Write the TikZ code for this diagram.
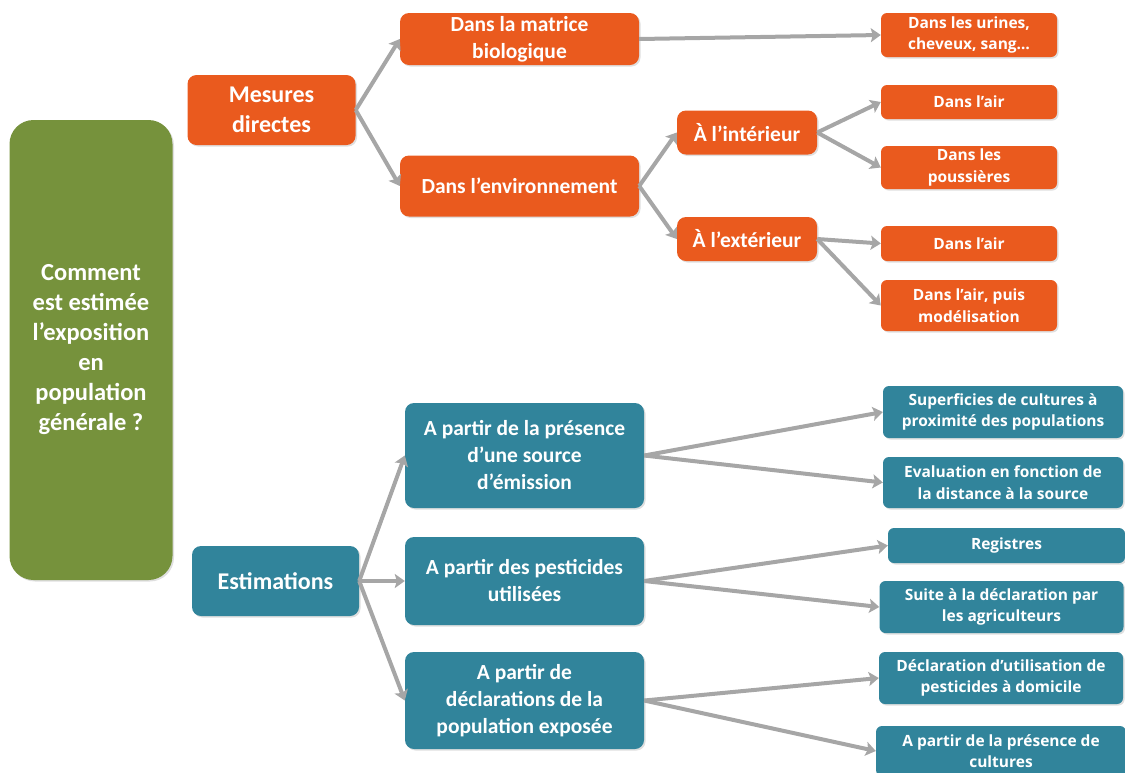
\documentclass[tikz,border=0pt]{standalone}
\usepackage{fontspec}
\setmainfont{Carlito}
\newfontfamily\petite{Open Sans}
\usetikzlibrary{arrows.meta,shadows}
\definecolor{vertq}{HTML}{76923C}
\definecolor{orangeq}{HTML}{EA5A1E}
\definecolor{bleuq}{HTML}{31849B}
\definecolor{grisq}{HTML}{A6A6A6}
\begin{document}
\begin{tikzpicture}[x=1pt,y=-1pt,
  boite/.style={text=white,align=center,inner sep=0pt,
    drop shadow={opacity=0.25,shadow xshift=1.5pt,shadow yshift=-1.5pt}},
  racine/.style={boite,fill=vertq,rounded corners=24pt,font=\bfseries\fontsize{24.5}{30}\selectfont},
  grand/.style={boite,rounded corners=9pt,font=\bfseries\fontsize{24}{30}\selectfont},
  moyen/.style={boite,rounded corners=9pt,font=\bfseries\fontsize{21.5}{27}\selectfont},
  petit/.style={boite,rounded corners=6pt,font=\petite\bfseries\fontsize{15.5}{21.5}\selectfont},
  fleche/.style={grisq,line width=4pt,-{Stealth[length=10pt,width=14pt,inset=2pt]}}]
\useasboundingbox (0,0) rectangle (1125,772);

% question
\node[racine,minimum width=163pt,minimum height=460pt] (racine) at (91,350)
  {Comment\\est estimée\\l’exposition\\en\\population\\générale ?};

% mesures directes
\node[grand,fill=orangeq,minimum width=168pt,minimum height=70pt] (mesures) at (271.5,110) {Mesures\\directes};
\node[moyen,fill=orangeq,minimum width=239pt,minimum height=52pt] (matrice) at (519.5,39) {Dans la matrice\\biologique};
\node[moyen,fill=orangeq,minimum width=239pt,minimum height=61pt] (environ) at (519.5,186) {Dans l’environnement};
\node[moyen,fill=orangeq,minimum width=140pt,minimum height=44pt] (interieur) at (747,132.5) {À l’intérieur};
\node[moyen,fill=orangeq,minimum width=140pt,minimum height=44pt] (exterieur) at (747,239) {À l’extérieur};
\node[petit,fill=orangeq,minimum width=176pt,minimum height=44pt] (urines) at (969,35) {Dans les urines,\\cheveux, sang…};
\node[petit,fill=orangeq,minimum width=176pt,minimum height=34pt] (airint) at (969,102) {Dans l’air};
\node[petit,fill=orangeq,minimum width=176pt,minimum height=43pt] (poussieres) at (969,167.5) {Dans les\\poussières};
\node[petit,fill=orangeq,minimum width=176pt,minimum height=35pt] (airext) at (969,243.5) {Dans l’air};
\node[petit,fill=orangeq,minimum width=176pt,minimum height=51pt] (modelis) at (969,305.5) {Dans l’air, puis\\modélisation};

% estimations
\node[grand,fill=bleuq,minimum width=167pt,minimum height=70pt] (estim) at (275.5,581) {Estimations};
\node[moyen,fill=bleuq,minimum width=239pt,minimum height=105pt] (source) at (524.5,455.5) {A partir de la présence\\d’une source\\d’émission};
\node[moyen,fill=bleuq,minimum width=239pt,minimum height=88pt] (pesticides) at (524.5,581) {A partir des pesticides\\utilisées};
\node[moyen,fill=bleuq,minimum width=239pt,minimum height=97pt] (declar) at (524.5,700.5) {A partir de\\déclarations de la\\population exposée};
\node[petit,fill=bleuq,minimum width=240pt,minimum height=52pt] (superf) at (1003,412) {Superficies de cultures à\\proximité des populations};
\node[petit,fill=bleuq,minimum width=240pt,minimum height=51pt] (evalu) at (1003,482.5) {Evaluation en fonction de\\la distance à la source};
\node[petit,fill=bleuq,minimum width=237pt,minimum height=35pt] (registres) at (1006.5,545.5) {Registres};
\node[petit,fill=bleuq,minimum width=244pt,minimum height=52pt] (suite) at (1001.5,607) {Suite à la déclaration par\\les agriculteurs};
\node[petit,fill=bleuq,minimum width=244pt,minimum height=52pt] (domicile) at (1001,678) {Déclaration d’utilisation de\\pesticides à domicile};
\node[petit,fill=bleuq,minimum width=250pt,minimum height=50pt] (cultures) at (1001,751) {A partir de la présence de\\cultures};

% fleches
\foreach \a/\b in {mesures/matrice,mesures/environ,matrice/urines,environ/interieur,environ/exterieur,
  interieur/airint,interieur/poussieres,exterieur/airext,exterieur/modelis,
  estim/source,estim/pesticides,estim/declar,source/superf,source/evalu,
  pesticides/registres,pesticides/suite,declar/domicile,declar/cultures}
  \draw[fleche] (\a.east) -- (\b.west);
\end{tikzpicture}
\end{document}
